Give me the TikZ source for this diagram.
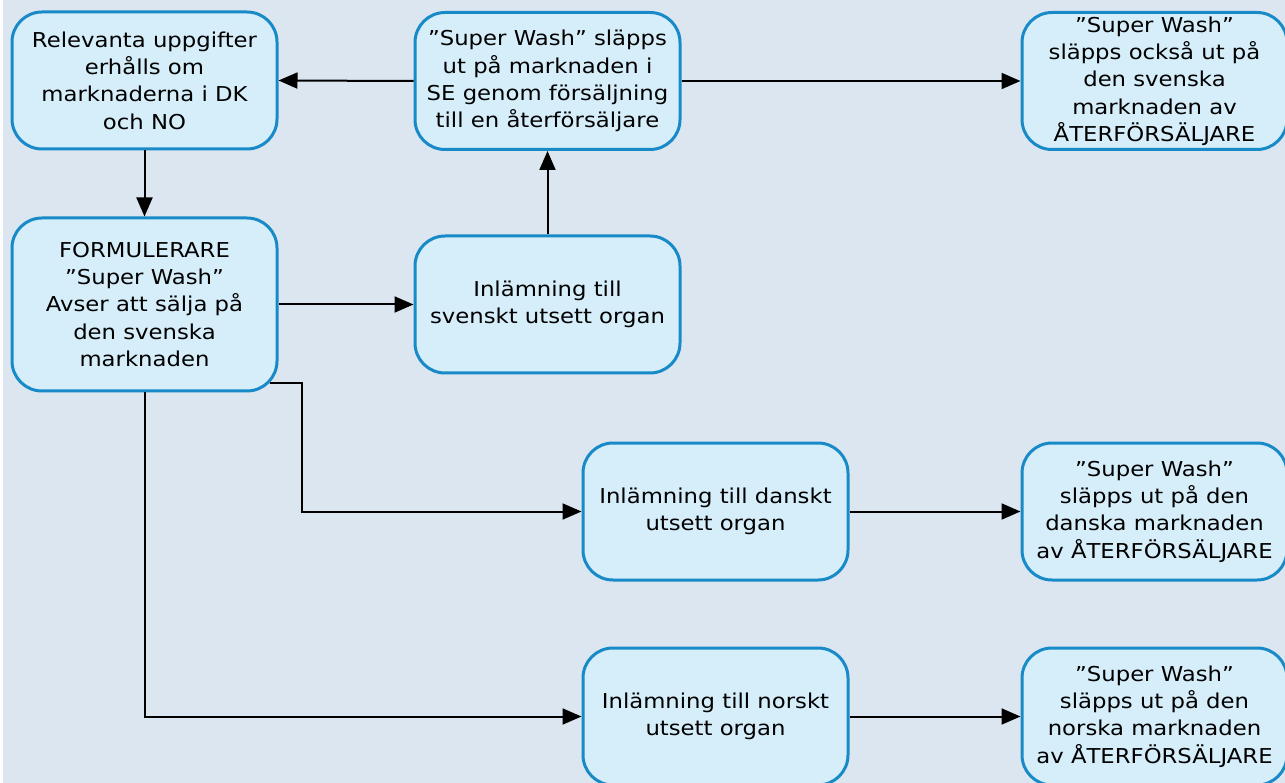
\documentclass[tikz,border=0pt]{standalone}
\usepackage{fontspec}
\setmainfont{DejaVu Sans}[FakeStretch=1.11]
\usetikzlibrary{arrows.meta,calc}
\definecolor{bgcol}{RGB}{220,230,241}
\definecolor{boxfill}{RGB}{214,238,250}
\definecolor{boxline}{RGB}{24,138,200}

\begin{document}
\begin{tikzpicture}[x=1pt,y=-1pt,
  box/.style={draw=boxline, fill=boxfill, line width=3pt, rounded corners=30pt,
    minimum width=265pt, minimum height=137pt, align=center, inner sep=0pt,
    font=\fontsize{20.5}{27.3}\selectfont},
  flow/.style={line width=2pt, -{Triangle[length=19pt,width=16pt]}}]

% page and background
\useasboundingbox (0,0) rectangle (1285,783);
\fill[bgcol] (0,0) rectangle (1285,783);
\fill[white] (0,0) rectangle (3,783);
\clip (0,0) rectangle (1285,783);

% process boxes
\node[box] (A) at (144.5,80.5) {Relevanta uppgifter\\erhålls om\\marknaderna i DK\\och NO};
\node[box] (B) at (547.5,81) {”Super Wash” släpps\\ut på marknaden i\\SE genom försäljning\\till en återförsäljare};
\node[box] (C) at (1154.5,81) {”Super Wash”\\släpps också ut på\\den svenska\\marknaden av\\ÅTERFÖRSÄLJARE};
\node[box, minimum height=173pt] (D) at (144.5,304.5) {FORMULERARE\\”Super Wash”\\Avser att sälja på\\den svenska\\marknaden};
\node[box] (E) at (547.5,304.5) {Inlämning till\\svenskt utsett organ};
\node[box] (F) at (715.5,511.5) {Inlämning till danskt\\utsett organ};
\node[box] (G) at (1154.5,511.5) {”Super Wash”\\släpps ut på den\\danska marknaden\\av ÅTERFÖRSÄLJARE};
\node[box] (H) at (715.5,716.5) {Inlämning till norskt\\utsett organ};
\node[box] (I) at (1154.5,716.5) {”Super Wash”\\släpps ut på den\\norska marknaden\\av ÅTERFÖRSÄLJARE};

% connectors
\draw[flow] (B.west) -- (A.east);
\draw[flow] (B.east) -- (C.west);
\draw[flow] (A.south) -- (D.north);
\draw[flow] (E.north) -- (B.south);
\draw[flow] (D.east) -- (E.west);
\coordinate (Dc) at ($(D.south east)+(-9,-9)$);
\coordinate (jx) at (302,0);
\draw[flow] (Dc) -- (Dc -| jx) |- (F.west);
\draw[flow] (D.south) |- (H.west);
\draw[flow] (F.east) -- (G.west);
\draw[flow] (H.east) -- (I.west);
\end{tikzpicture}
\end{document}
